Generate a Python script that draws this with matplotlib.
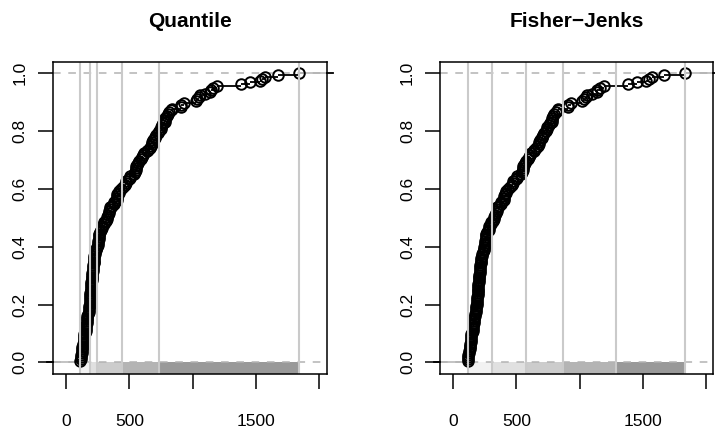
import numpy as np
import matplotlib
matplotlib.use("Agg")
import matplotlib.pyplot as plt

plt.rcParams["font.family"] = ["Liberation Sans", "DejaVu Sans"]

# meuse zinc concentrations (ppm), 155 samples
zinc = [1022, 1141, 640, 257, 269, 281, 346, 406, 347, 183,
        189, 251, 1096, 504, 326, 1032, 606, 711, 735, 1052,
        673, 402, 343, 218, 200, 194, 207, 180, 240, 180,
        208, 198, 250, 192, 213, 321, 569, 833, 906, 1454,
        298, 167, 176, 258, 746, 746, 464, 365, 282, 375,
        222, 812, 1548, 1839, 1528, 933, 432, 550, 1571, 1190,
        907, 761, 659, 643, 801, 784, 1060, 119, 778, 703,
        676, 793, 685, 593, 549, 680, 539, 560, 1136, 1383,
        1161, 1672, 765, 279, 241, 317, 545, 505, 420, 332,
        400, 553, 577, 155, 224, 180, 226, 186, 198, 187,
        199, 157, 203, 143, 136, 117, 113, 130, 192, 240,
        221, 140, 128, 166, 191, 232, 203, 722, 210, 198,
        139, 253, 703, 832, 262, 142, 119, 152, 415, 474,
        126, 210, 220, 133, 141, 158, 129, 206, 451, 296,
        189, 154, 169, 403, 471, 612, 601, 783, 258, 214,
        166, 496, 342, 162, 375]

quantile_breaks = [113.0, 186.8, 246.4, 439.6, 737.2, 1839.0]
fisher_breaks = [113.0, 307.5, 573.0, 869.5, 1286.5, 1839.0]
class_greys = ["#f2f2f2", "#e0e0e0", "#cccccc", "#b4b4b4", "#999999"]
titles = ["Quantile", "Fisher\u2212Jenks"]
x_ticks = [0, 500, 1000, 1500, 2000]
x_tick_labels = ["0", "500", "", "1500", ""]
y_ticks = [0.0, 0.2, 0.4, 0.6, 0.8, 1.0]
y_tick_labels = ["0.0", "0.2", "0.4", "0.6", "0.8", "1.0"]

GREY01 = "#b3b3b3"   # gray70, the 0/1 reference lines
BRKCOL = "#cacaca"


def ecdf_panel(ax, x, brks, title):
    xs = np.sort(np.asarray(x, float))
    n = len(xs)
    ys = np.arange(1, n + 1) / n

    # R-like limits: knots range widened 8 %, then 4 % axis padding
    r = xs[-1] - xs[0]
    lo, hi = xs[0] - 0.08 * r, xs[-1] + 0.08 * r
    xlim = (lo - 0.04 * (hi - lo), hi + 0.04 * (hi - lo))
    ax.set_xlim(xlim)
    ax.set_ylim(-0.04, 1.04)

    # class colour bar along the bottom
    ax.bar(brks[:-1], 0.04, width=np.diff(brks), bottom=-0.04, align="edge",
           color=class_greys, linewidth=0, zorder=1)

    # step function: flats only, open circles at the jumps
    ax.hlines(ys[:-1], xs[:-1], xs[1:], color="black", lw=1.3, zorder=3)
    ax.hlines([0, 1], [xlim[0], xs[-1]], [xs[0], xlim[1]],
              color=GREY01, lw=1.1, zorder=3)
    ext = 0.022 * (xlim[1] - xlim[0])
    ax.plot([xlim[0] - ext, xlim[0]], [0, 0], color="black", lw=1.3,
            clip_on=False, zorder=3)
    ax.plot([xlim[1], xlim[1] + ext], [1, 1], color="black", lw=1.3,
            clip_on=False, zorder=3)
    ax.plot(xs, ys, "o", mfc="none", mec="black", ms=7.6, mew=1.4, zorder=4)

    for y0 in (0, 1):
        ax.axhline(y0, color=GREY01, lw=1.1, dashes=(5, 5), zorder=2)
    for b in brks:
        ax.axvline(b, color=BRKCOL, lw=1.5, zorder=5)

    ax.set_xticks(x_ticks)
    ax.set_xticklabels(x_tick_labels, fontsize=12.5)
    ax.set_yticks(y_ticks)
    ax.set_yticklabels(y_tick_labels, fontsize=12.5, rotation=90, va="center")
    ax.tick_params(axis="both", length=11, width=1.1, color="black")
    ax.tick_params(axis="x", pad=17.5)
    ax.tick_params(axis="y", pad=7)
    for s in ax.spines.values():
        s.set_linewidth(1.1)
        s.set_zorder(6)
    ax.set_title(title, fontsize=15, fontweight="bold", pad=25)


fig = plt.figure(figsize=(7.15, 4.29), dpi=100)
ax1 = fig.add_axes([52.7 / 715, 1 - 374 / 429, 274 / 715, 312.5 / 429])
ax2 = fig.add_axes([440 / 715, 1 - 374 / 429, 273 / 715, 312.5 / 429])

ecdf_panel(ax1, zinc, quantile_breaks, titles[0])
ecdf_panel(ax2, zinc, fisher_breaks, titles[1])

fig.savefig("out.png", dpi=100)
